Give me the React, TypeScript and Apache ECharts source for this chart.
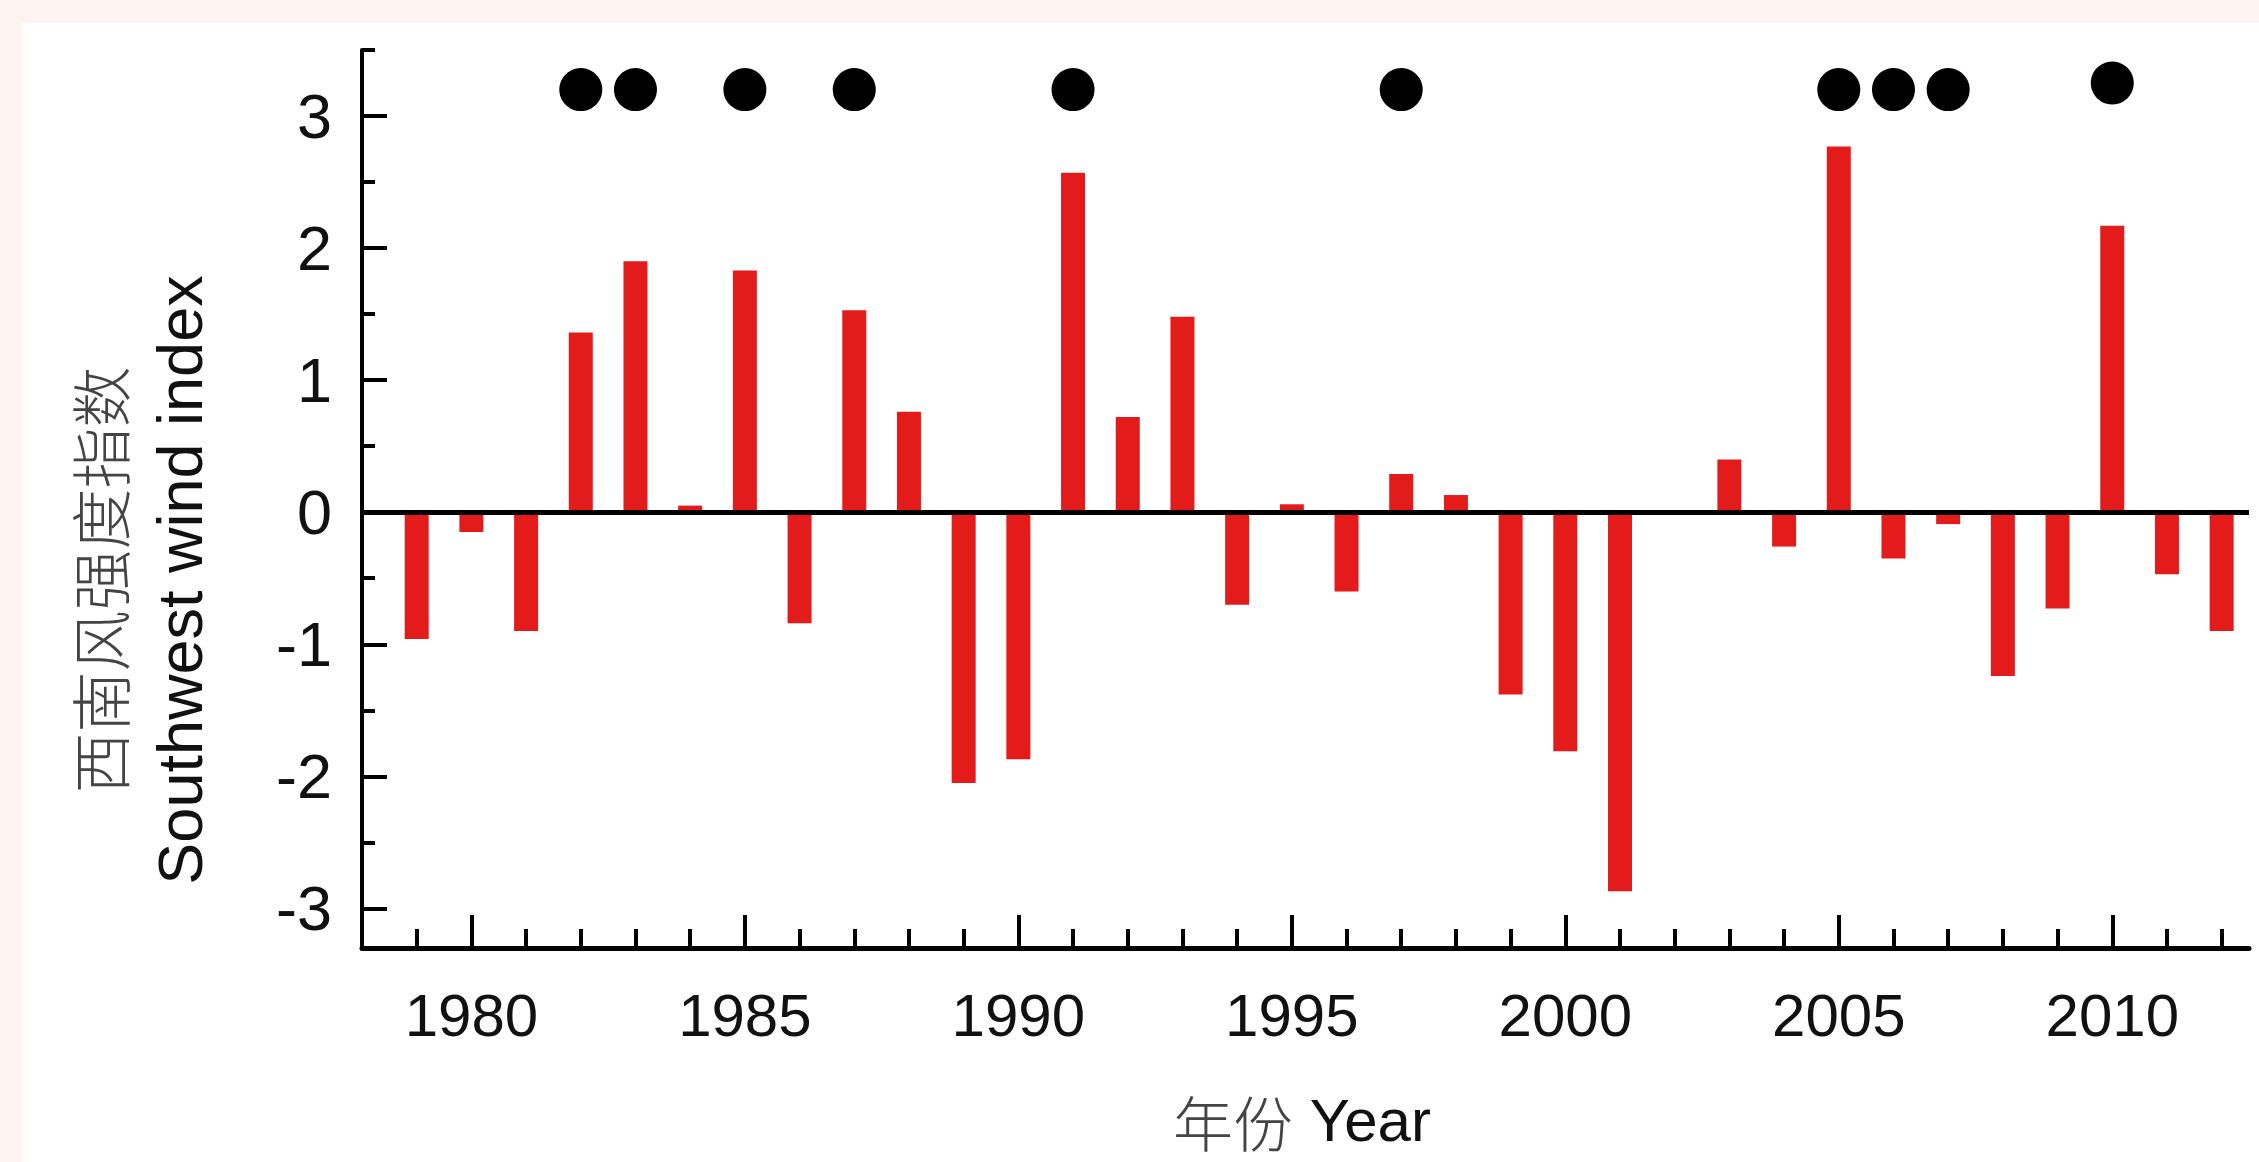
import React, { useEffect, useRef } from "react";
import * as echarts from "echarts";

const years = [
  1979, 1980, 1981, 1982, 1983, 1984, 1985, 1986, 1987, 1988, 1989, 1990,
  1991, 1992, 1993, 1994, 1995, 1996, 1997, 1998, 1999, 2000, 2001, 2002,
  2003, 2004, 2005, 2006, 2007, 2008, 2009, 2010, 2011, 2012,
];
const windIndex = [
  -0.96, -0.15, -0.9, 1.36, 1.9, 0.05, 1.83, -0.84, 1.53, 0.76, -2.05, -1.87,
  2.57, 0.72, 1.48, -0.7, 0.06, -0.6, 0.29, 0.13, -1.38, -1.81, -2.87, 0,
  0.4, -0.26, 2.77, -0.35, -0.09, -1.24, -0.73, 2.17, -0.47, -0.9,
];
const dotYears = [1982, 1983, 1985, 1987, 1991, 1997, 2005, 2006, 2007, 2010];
const dotValues = [3.2, 3.2, 3.2, 3.2, 3.2, 3.2, 3.2, 3.2, 3.2, 3.25];
const xMajorTicks = [1980, 1985, 1990, 1995, 2000, 2005, 2010];
const xMinorTicks = [
  1979, 1981, 1982, 1983, 1984, 1986, 1987, 1988, 1989, 1991, 1992, 1993,
  1994, 1996, 1997, 1998, 1999, 2001, 2002, 2003, 2004, 2006, 2007, 2008,
  2009, 2011, 2012,
];
const yMajorTicks = [-3, -2, -1, 0, 1, 2, 3];
const yMinorTicks = [-2.5, -1.5, -0.5, 0.5, 1.5, 2.5, 3.5];
const yLabelCn = "西南风强度指数";
const yLabelEn = "Southwest wind index";
const xLabelCn = "年份";
const xLabelEn = "Year";

const SANS = "'Liberation Sans', Arial, Helvetica, sans-serif";
const CJK = "'Noto Sans CJK SC', sans-serif";

export default function App() {
  const ref = useRef<HTMLDivElement>(null);

  useEffect(() => {
    if (!ref.current) return;
    const chart = echarts.init(ref.current, null, { renderer: "svg" });
    const X_MIN = 1978;
    const X_MAX = 2012.5;
    const Y_MIN = -3.3;
    const Y_MAX = 3.5;
    const tickLine = { color: "#000", width: 4 };

    const option: any = {
      animation: false,
      backgroundColor: "#ffffff",
      grid: { left: 340, right: 10, top: 27, bottom: 214, containLabel: false },
      xAxis: [
        {
          type: "value",
          min: X_MIN,
          max: X_MAX,
          position: "bottom",
          axisLine: { show: true, onZero: false, lineStyle: { color: "#000", width: 5 } },
          axisTick: {
            show: true,
            inside: true,
            length: 33,
            lineStyle: tickLine,
            customValues: xMajorTicks,
          },
          axisLabel: {
            show: true,
            customValues: xMajorTicks,
            margin: 37,
            fontSize: 60,
            color: "#111",
            fontFamily: SANS,
            formatter: (v: number) => String(v),
          },
          splitLine: { show: false },
        },
        {
          type: "value",
          min: X_MIN,
          max: X_MAX,
          position: "bottom",
          axisLine: { show: false, onZero: false },
          axisTick: {
            show: true,
            inside: true,
            length: 19,
            lineStyle: tickLine,
            customValues: xMinorTicks,
          },
          axisLabel: { show: false },
          splitLine: { show: false },
        },
      ],
      yAxis: [
        {
          type: "value",
          min: Y_MIN,
          max: Y_MAX,
          position: "left",
          axisLine: { show: true, onZero: false, lineStyle: { color: "#000", width: 4 } },
          axisTick: {
            show: true,
            inside: true,
            length: 25,
            lineStyle: tickLine,
            customValues: yMajorTicks,
          },
          axisLabel: {
            show: true,
            customValues: yMajorTicks,
            margin: 30,
            fontSize: 63,
            color: "#111",
            fontFamily: SANS,
          },
          splitLine: { show: false },
        },
        {
          type: "value",
          min: Y_MIN,
          max: Y_MAX,
          position: "left",
          axisLine: { show: false, onZero: false },
          axisTick: {
            show: true,
            inside: true,
            length: 13,
            lineStyle: tickLine,
            customValues: yMinorTicks,
          },
          axisLabel: { show: false },
          splitLine: { show: false },
        },
      ],
      series: [
        {
          type: "bar",
          xAxisIndex: 0,
          yAxisIndex: 0,
          barWidth: 24,
          itemStyle: { color: "#e31b1b" },
          data: years.map((y, i) => [y, windIndex[i]]),
          markLine: {
            silent: true,
            symbol: ["none", "none"],
            label: { show: false },
            lineStyle: { color: "#000", width: 5, type: "solid", opacity: 1 },
            data: [{ yAxis: 0 }],
          },
        },
        {
          type: "scatter",
          xAxisIndex: 0,
          yAxisIndex: 0,
          symbol: "circle",
          symbolSize: 43,
          itemStyle: { color: "#000", opacity: 1 },
          data: dotYears.map((y, i) => [y, dotValues[i]]),
        },
      ],
      graphic: [
        {
          type: "text",
          x: 76,
          y: 557,
          rotation: Math.PI / 2,
          style: {
            text: yLabelCn,
            fill: "#444",
            fontSize: 61,
            fontFamily: CJK,
            fontWeight: 300,
            textAlign: "center",
            textVerticalAlign: "middle",
            align: "center",
            verticalAlign: "middle",
          },
        },
        {
          type: "text",
          x: 158,
          y: 557,
          rotation: Math.PI / 2,
          style: {
            text: yLabelEn,
            fill: "#111",
            fontSize: 63,
            fontFamily: SANS,
            textAlign: "center",
            textVerticalAlign: "middle",
            align: "center",
            verticalAlign: "middle",
          },
        },
        {
          type: "text",
          x: 1280,
          y: 1097,
          style: {
            text: "{cn|" + xLabelCn + "} {en|" + xLabelEn + "}",
            fill: "#111",
            fontSize: 60,
            fontFamily: SANS,
            textAlign: "center",
            textVerticalAlign: "middle",
            align: "center",
            verticalAlign: "middle",
            rich: {
              cn: { fontSize: 60, fontFamily: CJK, fontWeight: 300, fill: "#444", color: "#444" },
              en: { fontSize: 60, fontFamily: SANS, fill: "#111", color: "#111" },
            },
          },
        },
      ],
    };

    chart.setOption(option);
    return () => chart.dispose();
  }, []);

  return (
    <div
      style={{
        position: "fixed",
        left: 0,
        top: 0,
        width: 2259,
        height: 1162,
        background: "#fdf3f1",
        overflow: "hidden",
      }}
    >
      <div
        ref={ref}
        style={{
          position: "absolute",
          left: 22,
          top: 23,
          width: 2237,
          height: 1139,
          background: "#ffffff",
        }}
      />
    </div>
  );
}
